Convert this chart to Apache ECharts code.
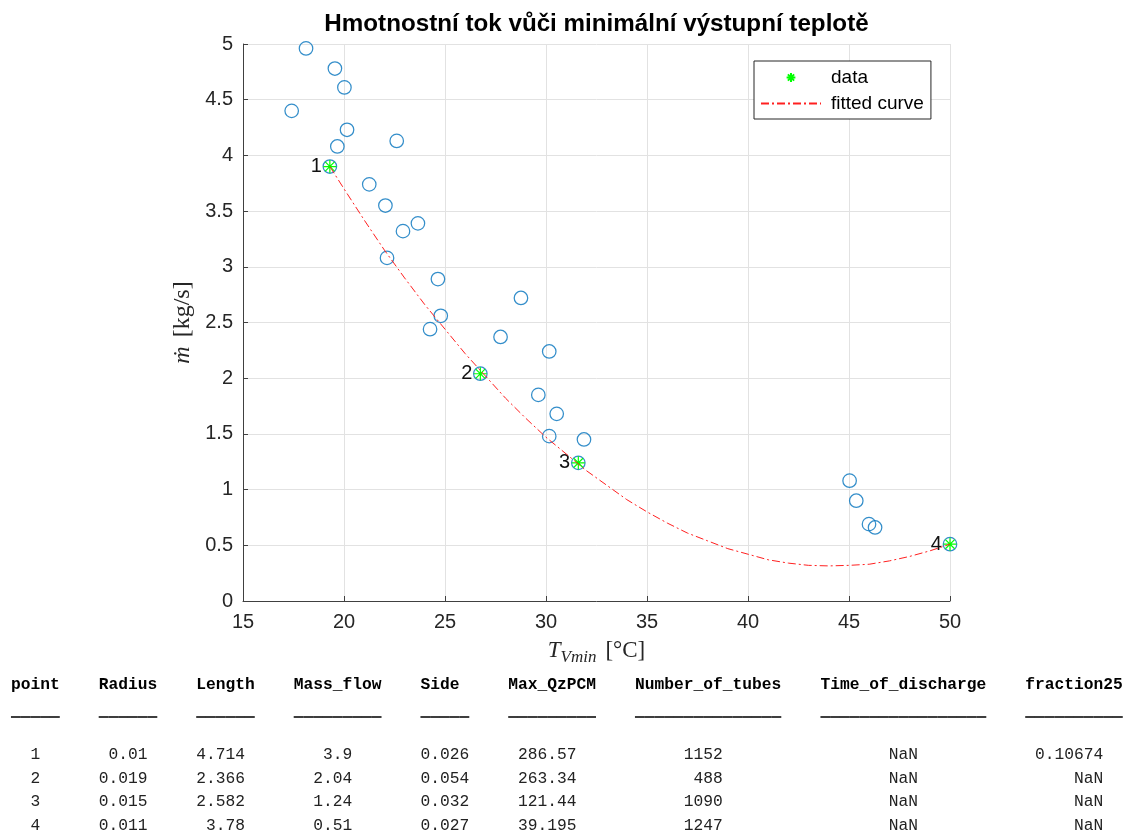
<!DOCTYPE html>
<html>
<head>
<meta charset="utf-8">
<script src="https://cdn.jsdelivr.net/npm/echarts@6/dist/echarts.min.js"></script>
<style>
  html, body { margin: 0; padding: 0; background: #fff; }
  #chart { width: 1125px; height: 834px; }
</style>
</head>
<body>
<div id="chart"></div>
<script>
// All evaluated designs: minimum outlet temperature [°C] vs. mass flow [kg/s]
const designTemp = [17.41, 18.12, 19.55, 20.02, 20.15, 19.67, 22.61, 21.25, 22.05, 22.92,
                    23.66, 22.13, 24.65, 24.79, 24.26, 28.76, 27.75, 30.16, 29.62, 30.53,
                    30.16, 31.88, 45.03, 45.36, 45.99, 46.29];
const designFlow = [4.40, 4.96, 4.78, 4.61, 4.23, 4.08, 4.13, 3.74, 3.55, 3.32,
                    3.39, 3.08, 2.89, 2.56, 2.44, 2.72, 2.37, 2.24, 1.85, 1.68,
                    1.48, 1.45, 1.08, 0.90, 0.69, 0.66];

// Selected points (also listed in the table below the plot)
const selectedTemp = [19.3, 26.75, 31.6, 50.0];

// Fitted curve through the selected points
const fitTemp = [19.3, 20, 21, 22, 23, 24, 25, 26, 27, 28, 29, 30, 31, 32, 33, 34, 35,
                 36, 37, 38, 39, 40, 41, 42, 43, 44, 45, 46, 47, 48, 49, 50];
const fitFlow = [3.90, 3.70, 3.42, 3.15, 2.90, 2.66, 2.44, 2.22, 2.02, 1.82, 1.64, 1.47,
                 1.32, 1.17, 1.04, 0.91, 0.80, 0.70, 0.61, 0.54, 0.47, 0.42, 0.37, 0.34,
                 0.32, 0.315, 0.32, 0.33, 0.36, 0.40, 0.45, 0.51];

// Table columns
const tableHeaders = ['point', 'Radius', 'Length', 'Mass_flow', 'Side', 'Max_QzPCM',
                      'Number_of_tubes', 'Time_of_discharge', 'fraction25'];
const pointId = [1, 2, 3, 4];
const radius = [0.01, 0.019, 0.015, 0.011];
const tubeLength = [4.714, 2.366, 2.582, 3.78];
const massFlow = [3.9, 2.04, 1.24, 0.51];
const side = [0.026, 0.054, 0.032, 0.027];
const maxQzPCM = [286.57, 263.34, 121.44, 39.195];
const numberOfTubes = [1152, 488, 1090, 1247];
const timeOfDischarge = [NaN, NaN, NaN, NaN];
const fraction25 = [0.10674, NaN, NaN, NaN];

const xTicks = { min: 15, max: 50, step: 5 };
const yTicks = { min: 0, max: 5, step: 0.5 };

const zip = (a, b) => a.map((v, i) => [v, b[i]]);

// Fixed-width table text, laid out like a console table print
function buildTableLines() {
  const cols = [pointId, radius, tubeLength, massFlow, side, maxQzPCM,
                numberOfTubes, timeOfDischarge, fraction25].map(c => c.map(v => String(v)));
  const sep = '    ';
  const header = [], rule = [];
  const rows = pointId.map(() => []);
  cols.forEach((cells, ci) => {
    const name = tableHeaders[ci];
    const dataW = Math.max(...cells.map(s => s.length));
    const colW = Math.max(name.length, dataW);
    const lead = ' '.repeat(Math.floor((colW - dataW) / 2));
    header.push(name.padEnd(colW));
    rule.push('_'.repeat(colW));
    cells.forEach((s, ri) => rows[ri].push((lead + s.padStart(dataW)).padEnd(colW)));
  });
  return {
    header: header.join(sep),
    rule: rule.join(sep),
    rows: rows.map(r => r.join(sep))
  };
}

const table = buildTableLines();
const mono = '"Liberation Mono", "Courier New", monospace';
const tableFontSize = 16.25;
const tableLeft = 11;
const tableLine = 23.4;
const tableTop = 685;

function tableText(text, y, bold, fill) {
  return {
    type: 'text',
    silent: true,
    style: {
      text, x: tableLeft, y,
      fontFamily: mono, fontSize: tableFontSize, fontWeight: bold ? 'bold' : 'normal',
      fill, verticalAlign: 'middle', textVerticalAlign: 'middle'
    }
  };
}

// header, a doubled underscore rule for a heavier underline, then the data rows
const tableGraphics = [
  tableText(table.header, tableTop, true, '#000'),
  tableText(table.rule, tableTop + tableLine + 3, true, '#000'),
  tableText(table.rule, tableTop + tableLine + 4, true, '#000')
].concat(table.rows.map((row, i) => tableText(row, tableTop + tableLine * (3 + i), false, '#222')));

const sans = '"Liberation Sans", Arial, Helvetica, sans-serif';
const serif = '"Liberation Serif", "DejaVu Serif", "Times New Roman", serif';
const asterisk = 'path://M0,5L10,5M5,0L5,10M1.46,1.46L8.54,8.54M1.46,8.54L8.54,1.46';
const clear = 'rgba(0,0,0,0)';

const chart = echarts.init(document.getElementById('chart'));
chart.setOption({
  animation: false,
  backgroundColor: '#fff',
  title: {
    text: 'Hmotnostní tok vůči minimální výstupní teplotě',
    left: 591.5,
    top: 7,
    textAlign: 'center',
    textStyle: { fontFamily: sans, fontSize: 24.2, fontWeight: 'bold', color: '#000' }
  },
  grid: { left: 243, top: 44, width: 707, height: 557, containLabel: false },
  legend: {
    data: [
      { name: 'data' },
      { name: 'fitted curve', itemStyle: { color: clear, borderColor: clear, borderWidth: 0 } }
    ],
    orient: 'vertical',
    left: 754,
    top: 61,
    backgroundColor: '#fff',
    borderColor: '#262626',
    borderWidth: 1,
    borderRadius: 0,
    padding: [7, 7, 6, 6],
    itemGap: 7,
    itemWidth: 60,
    itemHeight: 11,
    selectedMode: false,
    textStyle: { fontFamily: sans, fontSize: 19, color: '#000', padding: [0, 0, 0, 5] }
  },
  xAxis: {
    type: 'value',
    min: xTicks.min,
    max: xTicks.max,
    interval: xTicks.step,
    name: '{t|T}{s|Vmin}{u|[°C]}',
    nameLocation: 'middle',
    nameGap: 35,
    nameTextStyle: {
      rich: {
        t: { fontFamily: serif, fontStyle: 'italic', fontSize: 23, color: '#262626', lineHeight: 30, verticalAlign: 'middle' },
        s: { fontFamily: serif, fontStyle: 'italic', fontSize: 17, color: '#262626', lineHeight: 30, verticalAlign: 'bottom' },
        u: { fontFamily: serif, fontSize: 23, color: '#262626', lineHeight: 30, verticalAlign: 'middle', padding: [0, 0, 0, 9] }
      }
    },
    axisLine: { lineStyle: { color: '#404040', width: 1 } },
    axisTick: { inside: true, length: 5, lineStyle: { color: '#404040' } },
    axisLabel: { fontFamily: sans, fontSize: 20, color: '#262626', margin: 11 },
    splitLine: { show: true, lineStyle: { color: '#e2e2e2', width: 1 } }
  },
  yAxis: {
    type: 'value',
    min: yTicks.min,
    max: yTicks.max,
    interval: yTicks.step,
    name: '{m|ṁ}{u|[kg/s]}',
    nameLocation: 'middle',
    nameRotate: 90,
    nameGap: 48,
    nameTextStyle: {
      rich: {
        m: { fontFamily: serif, fontStyle: 'italic', fontSize: 24, color: '#262626' },
        u: { fontFamily: serif, fontSize: 24, color: '#262626', padding: [0, 0, 0, 9] }
      }
    },
    axisLine: { show: true, lineStyle: { color: '#404040', width: 1 } },
    axisTick: { show: true, inside: true, length: 5, lineStyle: { color: '#404040' } },
    axisLabel: { fontFamily: sans, fontSize: 20, color: '#262626', margin: 10 },
    splitLine: { show: true, lineStyle: { color: '#e2e2e2', width: 1 } }
  },
  series: [
    {
      name: 'designs',
      type: 'scatter',
      data: zip(designTemp.concat(selectedTemp), designFlow.concat(massFlow)),
      symbol: 'circle',
      symbolSize: 13.5,
      itemStyle: { color: clear, borderColor: '#0072BD', borderWidth: 1.25 },
      emphasis: { disabled: true },
      z: 2
    },
    {
      name: 'data',
      type: 'line',
      data: zip(selectedTemp, massFlow),
      symbol: asterisk,
      symbolSize: 13,
      showSymbol: true,
      lineStyle: { width: 0, opacity: 0 },
      itemStyle: { color: '#00ff00', borderColor: '#00ff00', borderWidth: 1.2 },
      label: {
        show: true,
        position: 'left',
        distance: 1,
        formatter: p => String(pointId[p.dataIndex]),
        fontFamily: sans,
        fontSize: 20,
        color: '#111'
      },
      emphasis: { disabled: true },
      z: 3
    },
    {
      name: 'fitted curve',
      type: 'line',
      data: zip(fitTemp, fitFlow),
      symbol: 'none',
      smooth: false,
      itemStyle: { color: clear },
      lineStyle: { color: '#ff2020', width: 1, type: [8, 3, 2, 3] },
      emphasis: { disabled: true },
      z: 4
    }
  ],
  graphic: tableGraphics
});
</script>
</body>
</html>
